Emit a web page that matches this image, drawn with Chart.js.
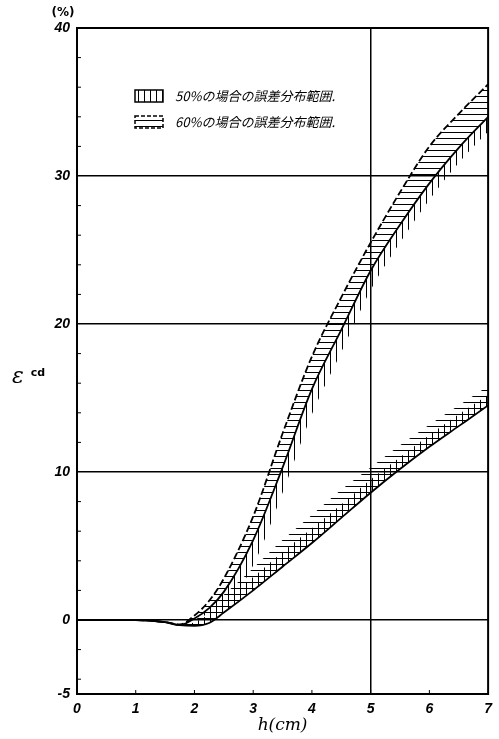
<!DOCTYPE html>
<html>
<head>
<meta charset="utf-8">
<script src="https://cdn.jsdelivr.net/npm/chart.js@4.4.0/dist/chart.umd.min.js"></script>
<style>
  html, body { margin: 0; padding: 0; background: #fff; }
  #wrap { width: 499px; height: 739px; }
</style>
</head>
<body>
<div id="wrap"><canvas id="chart" width="499" height="739"></canvas></div>
<script>
// h (cm)
const hValues = [0, 1, 1.5, 1.75, 2, 2.25, 2.5, 3, 3.5, 4, 4.5, 5, 5.5, 6, 6.5, 7];

// upper curve: solid line, dashed 60% bound above, 50% bound below
const upperSolid = [0, 0, -0.15, -0.35, 0.1, 0.8, 1.9, 5.4, 10.3, 15.6, 19.6, 23.6, 26.7, 29.5, 31.9, 34.0];
const upperDashed = [0, 0, -0.15, -0.3, 0.3, 1.3, 2.8, 7.0, 12.6, 17.8, 21.8, 25.5, 28.9, 32.0, 34.2, 36.2];
const upperLow50 = [0, 0, -0.15, -0.35, 0.1, 0.4, 0.8, 3.7, 8.6, 13.9, 18.1, 22.3, 25.5, 28.4, 30.9, 33.0];

// lower curve: solid line, 50% and 60% bounds above
const lowerSolid = [0, 0, -0.15, -0.35, -0.4, -0.2, 0.5, 2.0, 3.6, 5.2, 6.9, 8.6, 10.2, 11.7, 13.1, 14.5];
const lowerTop50 = [0, 0, -0.15, -0.35, -0.15, 0.4, 1.3, 2.9, 4.6, 6.2, 7.8, 9.5, 11.0, 12.5, 13.9, 15.2];
const lowerTop60 = [0, 0, -0.15, -0.35, 0.0, 0.8, 1.7, 3.5, 5.4, 7.1, 8.8, 10.3, 11.8, 13.2, 14.5, 15.8];

const yTickValues = [-5, 0, 10, 20, 30, 40];
const yGridValues = [0, 10, 20, 30];
const yMinorTicks = [-4, -2, 2, 4, 6, 8, 12, 14, 16, 18, 22, 24, 26, 28, 32, 34, 36, 38];
const xGridValues = [5];
const xMinorTicks = [1, 2, 3, 4, 5, 6];

const legendLabels = ['50%の場合の誤差分布範囲.', '60%の場合の誤差分布範囲.'];

function toPoints(ys) {
    return hValues.map((h, i) => ({ x: h, y: ys[i] }));
}

function makePattern(dir) {
    const c = document.createElement('canvas');
    c.width = 6;
    c.height = 6;
    const g = c.getContext('2d');
    g.strokeStyle = '#000';
    g.lineWidth = 1;
    g.beginPath();
    if (dir === 'v') {
        g.moveTo(0.5, 0); g.lineTo(0.5, 6);
    } else {
        g.moveTo(0, 0.5); g.lineTo(6, 0.5);
    }
    g.stroke();
    return g.createPattern(c, 'repeat');
}

const vPattern = makePattern('v');
const hPattern = makePattern('h');

// frame, minor ticks, titles and legend
const decorPlugin = {
    id: 'decor',
    afterDraw(chart) {
        const ctx = chart.ctx;
        const a = chart.chartArea;
        const xs = chart.scales.x;
        const ys = chart.scales.y;
        ctx.save();
        ctx.strokeStyle = '#000';
        ctx.lineWidth = 2;
        ctx.strokeRect(a.left, a.top, a.right - a.left, a.bottom - a.top);

        ctx.lineWidth = 1;
        ctx.beginPath();
        yMinorTicks.forEach(v => {
            const y = ys.getPixelForValue(v);
            ctx.moveTo(a.left, y); ctx.lineTo(a.left + 4, y);
        });
        xMinorTicks.forEach(v => {
            const x = xs.getPixelForValue(v);
            ctx.moveTo(x, a.bottom); ctx.lineTo(x, a.bottom - 4);
        });
        ctx.stroke();

        // axis titles
        ctx.fillStyle = '#000';
        ctx.textBaseline = 'middle';
        ctx.textAlign = 'center';
        ctx.font = 'italic 17px "DejaVu Serif", serif';
        ctx.fillText('h(cm)', (a.left + a.right) / 2, 726);
        ctx.font = 'italic 22px "DejaVu Serif", serif';
        ctx.fillText('ε', 18, 377);
        ctx.font = 'bold 11px "DejaVu Sans", sans-serif';
        ctx.fillText('cd', 38, 373);
        ctx.font = 'bold 12px "DejaVu Sans", sans-serif';
        ctx.fillText('(%)', 63, 13);

        // legend
        const lx = a.left + 58;
        const rows = [a.top + 68, a.top + 94];
        rows.forEach((ry, i) => {
            const bx = lx, by = ry - 6, bw = 28, bh = 12;
            ctx.fillStyle = i === 0 ? vPattern : hPattern;
            ctx.fillRect(bx, by, bw, bh);
            ctx.lineWidth = 1.5;
            ctx.setLineDash(i === 0 ? [] : [4, 2]);
            ctx.strokeRect(bx, by, bw, bh);
            ctx.setLineDash([]);
            ctx.fillStyle = '#000';
            ctx.textAlign = 'left';
            ctx.font = 'italic 13px "Noto Sans CJK JP", sans-serif';
            ctx.fillText(legendLabels[i], bx + 40, ry);
        });
        ctx.restore();
    }
};

new Chart(document.getElementById('chart'), {
    type: 'line',
    data: {
        datasets: [
            {
                label: 'upper 50% low',
                data: toPoints(upperLow50),
                borderWidth: 0,
                pointRadius: 0,
                fill: false
            },
            {
                label: 'upper',
                data: toPoints(upperSolid),
                borderColor: '#000',
                borderWidth: 1.8,
                pointRadius: 0,
                backgroundColor: vPattern,
                fill: { target: 0 }
            },
            {
                label: 'upper 60%',
                data: toPoints(upperDashed),
                borderColor: '#000',
                borderWidth: 1.8,
                borderDash: [7, 3],
                pointRadius: 0,
                backgroundColor: hPattern,
                fill: { target: 1 }
            },
            {
                label: 'lower',
                data: toPoints(lowerSolid),
                borderColor: '#000',
                borderWidth: 1.8,
                pointRadius: 0,
                fill: false
            },
            {
                label: 'lower 50%',
                data: toPoints(lowerTop50),
                borderWidth: 0,
                pointRadius: 0,
                backgroundColor: vPattern,
                fill: { target: 3 }
            },
            {
                label: 'lower 60%',
                data: toPoints(lowerTop60),
                borderWidth: 0,
                pointRadius: 0,
                backgroundColor: hPattern,
                fill: { target: 3 }
            }
        ]
    },
    options: {
        responsive: false,
        animation: false,
        cubicInterpolationMode: 'monotone',
        layout: { padding: { top: 28, right: 9, left: 0, bottom: 0 } },
        plugins: {
            legend: { display: false },
            tooltip: { enabled: false }
        },
        scales: {
            x: {
                type: 'linear',
                min: 0,
                max: 7,
                afterFit(scale) { scale.height = 45; },
                ticks: {
                    stepSize: 1,
                    color: '#000',
                    font: { family: '"Liberation Sans", sans-serif', size: 14, style: 'italic', weight: 'bold' },
                    padding: 7
                },
                grid: {
                    color: ctx => xGridValues.includes(ctx.tick && ctx.tick.value) ? '#000' : 'rgba(0,0,0,0)',
                    lineWidth: 1.5,
                    drawTicks: false
                },
                border: { display: false }
            },
            y: {
                type: 'linear',
                min: -5,
                max: 40,
                afterFit(scale) { scale.width = 77; },
                afterBuildTicks(scale) {
                    scale.ticks = yTickValues.map(v => ({ value: v }));
                },
                ticks: {
                    color: '#000',
                    font: { family: '"Liberation Sans", sans-serif', size: 14, style: 'italic', weight: 'bold' },
                    padding: 7
                },
                grid: {
                    color: ctx => yGridValues.includes(ctx.tick && ctx.tick.value) ? '#000' : 'rgba(0,0,0,0)',
                    lineWidth: 1.5,
                    drawTicks: false
                },
                border: { display: false }
            }
        }
    },
    plugins: [decorPlugin]
});
</script>
</body>
</html>
